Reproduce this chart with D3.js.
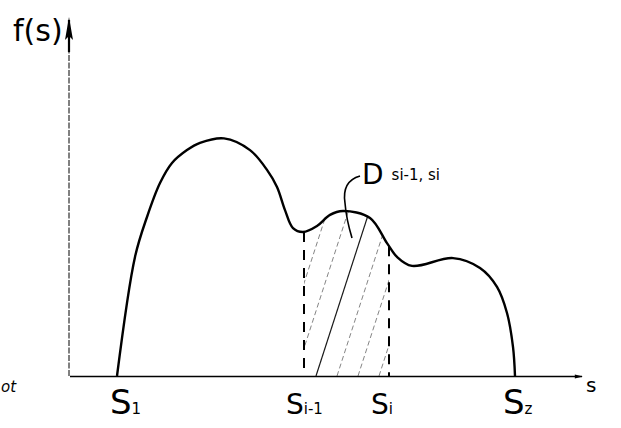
<!DOCTYPE html>
<html><head><meta charset="utf-8">
<script src="https://cdn.jsdelivr.net/npm/d3@7"></script>
<style>body{margin:0;background:#fff}svg{display:block}</style>
</head><body>
<svg id="c" width="621" height="428"></svg>
<script>
// ---- data ----
const sValues = [9.4, 13, 15.4, 18, 20.4, 23.4, 26, 30.8, 36, 39.4, 41.4, 43, 44.6, 46.6, 49.4, 52, 54.6, 60, 63.4, 65.4, 68.4, 76.6, 82, 85.4, 87.4, 88.6, 89];
const fValues = [0, 39.7, 53, 64.3, 71, 75.3, 77.7, 79.2, 75.3, 68.7, 63, 55.3, 49.3, 48, 50, 53.7, 55, 52.7, 44.3, 39.7, 36.7, 39.3, 36, 29.7, 21, 9.7, 0];
const intervalBounds = [46.8, 63.8];          // s_{i-1}, s_i
const tickLabels = [
  {s: 9.4,  main: "S", sub: "1"},
  {s: 46.8, main: "S", sub: "i-1"},
  {s: 63.8, main: "S", sub: "i"},
  {s: 89,   main: "S", sub: "z"}
];
const axisLabels = {x: "s", y: "f(s)"};
const regionLabel = {main: "D", sub: "si-1, si"};

// ---- scales ----
const svg = d3.select("#c");
const x = d3.scaleLinear().domain([0, 100]).range([70, 570]);
const y = d3.scaleLinear().domain([0, 100]).range([376, 76]);
const pts = sValues.map((s, i) => [s, fValues[i]]);
const curve = d3.curveCatmullRom.alpha(0.5);

// arrow markers
const defs = svg.append("defs");
defs.append("marker").attr("id", "arr").attr("viewBox", "0 0 10 10")
  .attr("refX", 9).attr("refY", 5).attr("markerWidth", 16).attr("markerHeight", 8)
  .attr("markerUnits", "userSpaceOnUse").attr("orient", "auto")
  .append("path").attr("d", "M0,2.5 L10,5 L0,7.5 Z").attr("fill", "#000");

// clip region for hatching: area under curve between bounds
const areaGen = d3.area().x(d => x(d[0])).y0(y(0)).y1(d => y(d[1])).curve(curve);
defs.append("clipPath").attr("id", "under")
  .append("path").attr("d", areaGen(pts));
defs.append("clipPath").attr("id", "band")
  .append("rect").attr("x", x(intervalBounds[0])).attr("y", 0)
  .attr("width", x(intervalBounds[1]) - x(intervalBounds[0])).attr("height", y(0));

// axes
svg.append("line").attr("x1", x(0)).attr("y1", y(0) + 0.5).attr("x2", 582).attr("y2", y(0) + 0.5)
  .attr("stroke", "#000").attr("stroke-width", 1.4).attr("marker-end", "url(#arr)");
svg.append("line").attr("x1", x(0) - 1).attr("y1", y(0)).attr("x2", x(0) - 1).attr("y2", 45)
  .attr("stroke", "#000").attr("stroke-width", 1).attr("stroke-dasharray", "6,1.5");
// y-axis arrow head (thick, hand drawn)
svg.append("path").attr("d", `M${x(0)-1},17 L${x(0)+3},40 L${x(0)-1},36 L${x(0)-5},40 Z`)
  .attr("fill", "#000");
svg.append("line").attr("x1", x(0) - 1).attr("y1", 20).attr("x2", x(0) - 1).attr("y2", 52)
  .attr("stroke", "#000").attr("stroke-width", 2.2);

// hatch lines
const hatch = svg.append("g").attr("clip-path", "url(#band)")
  .append("g").attr("clip-path", "url(#under)");
for (let k = -2; k < 10; k++) {
  const x0 = x(intervalBounds[0]) + 12 + k * 21;
  hatch.append("line")
    .attr("x1", x0).attr("y1", y(0))
    .attr("x2", x0 + 55).attr("y2", y(0) - 170)
    .attr("stroke", "#000").attr("stroke-width", k === 0 ? 1.2 : 0.8)
    .attr("stroke-dasharray", k === 0 ? null : "5,3")
    .attr("opacity", k === 0 ? 0.9 : 0.6);
}

// curve
const lineGen = d3.line().x(d => x(d[0])).y(d => y(d[1])).curve(curve);
const cpath = svg.append("path").attr("d", lineGen(pts)).attr("fill", "none")
  .attr("stroke", "#000").attr("stroke-width", 2.4).attr("stroke-linejoin", "round");

// find curve y at a given pixel x
function curveYAt(px) {
  const node = cpath.node(), L = node.getTotalLength();
  let best = null, bd = 1e9;
  for (let l = 0; l <= L; l += 0.5) {
    const p = node.getPointAtLength(l);
    const d = Math.abs(p.x - px);
    if (d < bd) { bd = d; best = p; }
  }
  return best.y;
}

// dashed verticals
intervalBounds.forEach(s => {
  svg.append("line").attr("x1", x(s)).attr("x2", x(s))
    .attr("y1", curveYAt(x(s))).attr("y2", y(0))
    .attr("stroke", "#000").attr("stroke-width", 2).attr("stroke-dasharray", "10,8");
});

// labels
const font = "'DejaVu Sans', sans-serif";
svg.append("text").attr("x", 13).attr("y", 41).attr("font-family", font)
  .attr("font-size", 30).text(axisLabels.y);
svg.append("text").attr("x", 586).attr("y", 392).attr("font-family", font)
  .attr("font-size", 20).text(axisLabels.x);
svg.append("text").attr("x", 1).attr("y", 392).attr("font-family", font)
  .attr("font-style", "italic").attr("font-size", 15).text("ot");

const offs = [{dx: -7, fs: 34}, {dx: -18, fs: 28}, {dx: -18, fs: 28}, {dx: -12, fs: 34}];
tickLabels.forEach((t, i) => {
  const tx = svg.append("text").attr("x", x(t.s) + offs[i].dx).attr("y", 414)
    .attr("font-family", font).attr("font-size", offs[i].fs);
  tx.append("tspan").text(t.main);
  tx.append("tspan").attr("font-size", 15).attr("dy", 0).text(t.sub);
});

// region label with leader
const lab = svg.append("text").attr("x", 362).attr("y", 184).attr("font-family", font).attr("font-size", 28);
lab.append("tspan").text(regionLabel.main);
lab.append("tspan").attr("font-size", 15).attr("dx", 8).attr("dy", -4).text(regionLabel.sub);
svg.append("path").attr("d", "M360,176 C346,180 343,190 345,203 C346,216 349,228 352,238")
  .attr("fill", "none").attr("stroke", "#000").attr("stroke-width", 1.6);
</script>
</body></html>
